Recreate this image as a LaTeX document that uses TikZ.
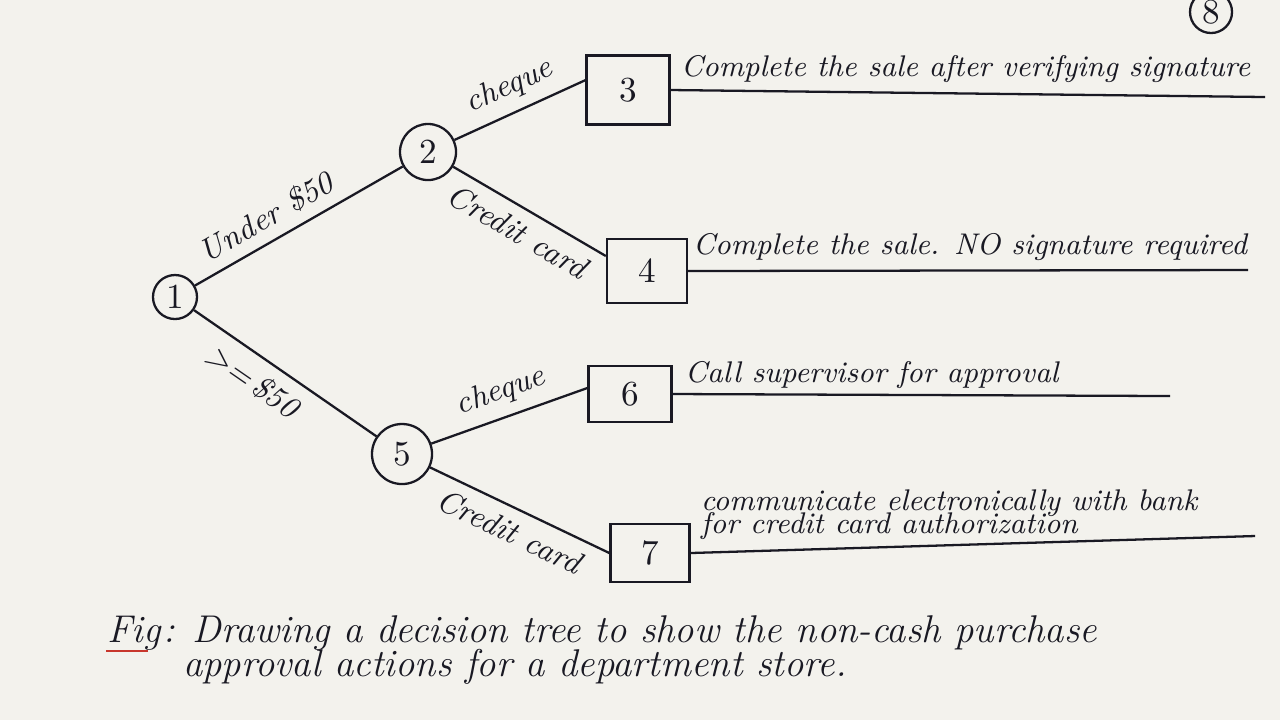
\documentclass[tikz,border=0pt]{standalone}
\usepackage{xcolor}
\definecolor{Paper}{RGB}{243,242,237}
\definecolor{Ink}  {RGB}{25, 25, 35}
\definecolor{RedInk}{RGB}{200,55,45}
\usepackage{tikz}
\usetikzlibrary{positioning}

\begin{document}
\begin{tikzpicture}[x=0.01cm, y=-0.01cm, line width=0.65pt, draw=Ink, text=Ink,
  dec/.style={draw=Ink, circle, inner sep=0pt, font=\fontsize{10}{12}\selectfont},
  leaf/.style={draw=Ink, rectangle, inner sep=0pt, font=\fontsize{10}{12}\selectfont},
  br/.style={font=\fontsize{9}{11}\selectfont\itshape, sloped, inner sep=3pt},
  act/.style={font=\fontsize{8.5}{10}\selectfont\itshape, inner sep=0pt},
  captext/.style={font=\fontsize{11}{13}\selectfont\itshape, inner sep=0pt}
]
  \fill[Paper] (0,0) rectangle (1280,720);
  \useasboundingbox (0,0) rectangle (1280,720);

  %% decision points
  \node[dec, minimum size=0.44cm] (n1) at (175,297) {1};
  \node[dec, minimum size=0.56cm] (n2) at (428,152) {2};
  \node[dec, minimum size=0.6cm]  (n5) at (402,454) {5};
  \node[dec, minimum size=0.42cm] (n8) at (1211,12) {8};

  %% outcomes
  \node[leaf, minimum width=0.83cm, minimum height=0.69cm] (b3) at (628,90)  {3};
  \node[leaf, minimum width=0.80cm, minimum height=0.64cm] (b4) at (647,271) {4};
  \node[leaf, minimum width=0.83cm, minimum height=0.56cm] (b6) at (630,394) {6};
  \node[leaf, minimum width=0.79cm, minimum height=0.58cm] (b7) at (650,553) {7};

  %% branches
  \draw (n1) -- node[br, above, pos=0.4]{Under \$50} (n2);
  \draw (n1) -- node[br, below, pos=0.4]{>=\,\$50} (n5);
  \draw (n2) -- node[br, above]{cheque} (b3.167);
  \draw (n2) -- node[br, below]{Credit card} (b4.160);
  \draw (n5) -- node[br, above]{cheque} (b6.172);
  \draw (n5) -- node[br, below]{Credit card} (b7.west);

  %% action lines
  \coordinate (e3) at (1265,97);
  \coordinate (e4) at (1248,270);
  \coordinate (e6) at (1170,396);
  \coordinate (e7) at (1255,536);
  \draw (b3.east) -- (e3);
  \draw (b4.east) -- (e4);
  \draw (b6.east) -- (e6);
  \draw (b7.east) -- (e7);

  \node[act, anchor=base west] (t3) at (680,76)  {Complete the sale after verifying signature};
  \node[act, anchor=base west] (t4) at (692,254) {Complete the sale. NO signature required};
  \node[act, anchor=base west] (t6) at (684,382) {Call supervisor for approval};
  \node[act, anchor=base west] (t7a) at (700,510) {communicate electronically with bank};
  \node[act, anchor=base west] (t7b) at (700,533) {for credit card authorization};

  %% caption
  \node[captext, anchor=base west] (fig) at (106,642) {Fig};
  \node[captext, anchor=base west] (cap1) at (fig.base east) {: Drawing a decision tree to show the non-cash purchase};
  \node[captext, anchor=base west] (cap2) at (182,676) {approval actions for a department store.};
  \draw[RedInk] ([yshift=-2.5pt]fig.base west) -- ([yshift=-2.5pt,xshift=-4pt]fig.base east);
\end{tikzpicture}
\end{document}
